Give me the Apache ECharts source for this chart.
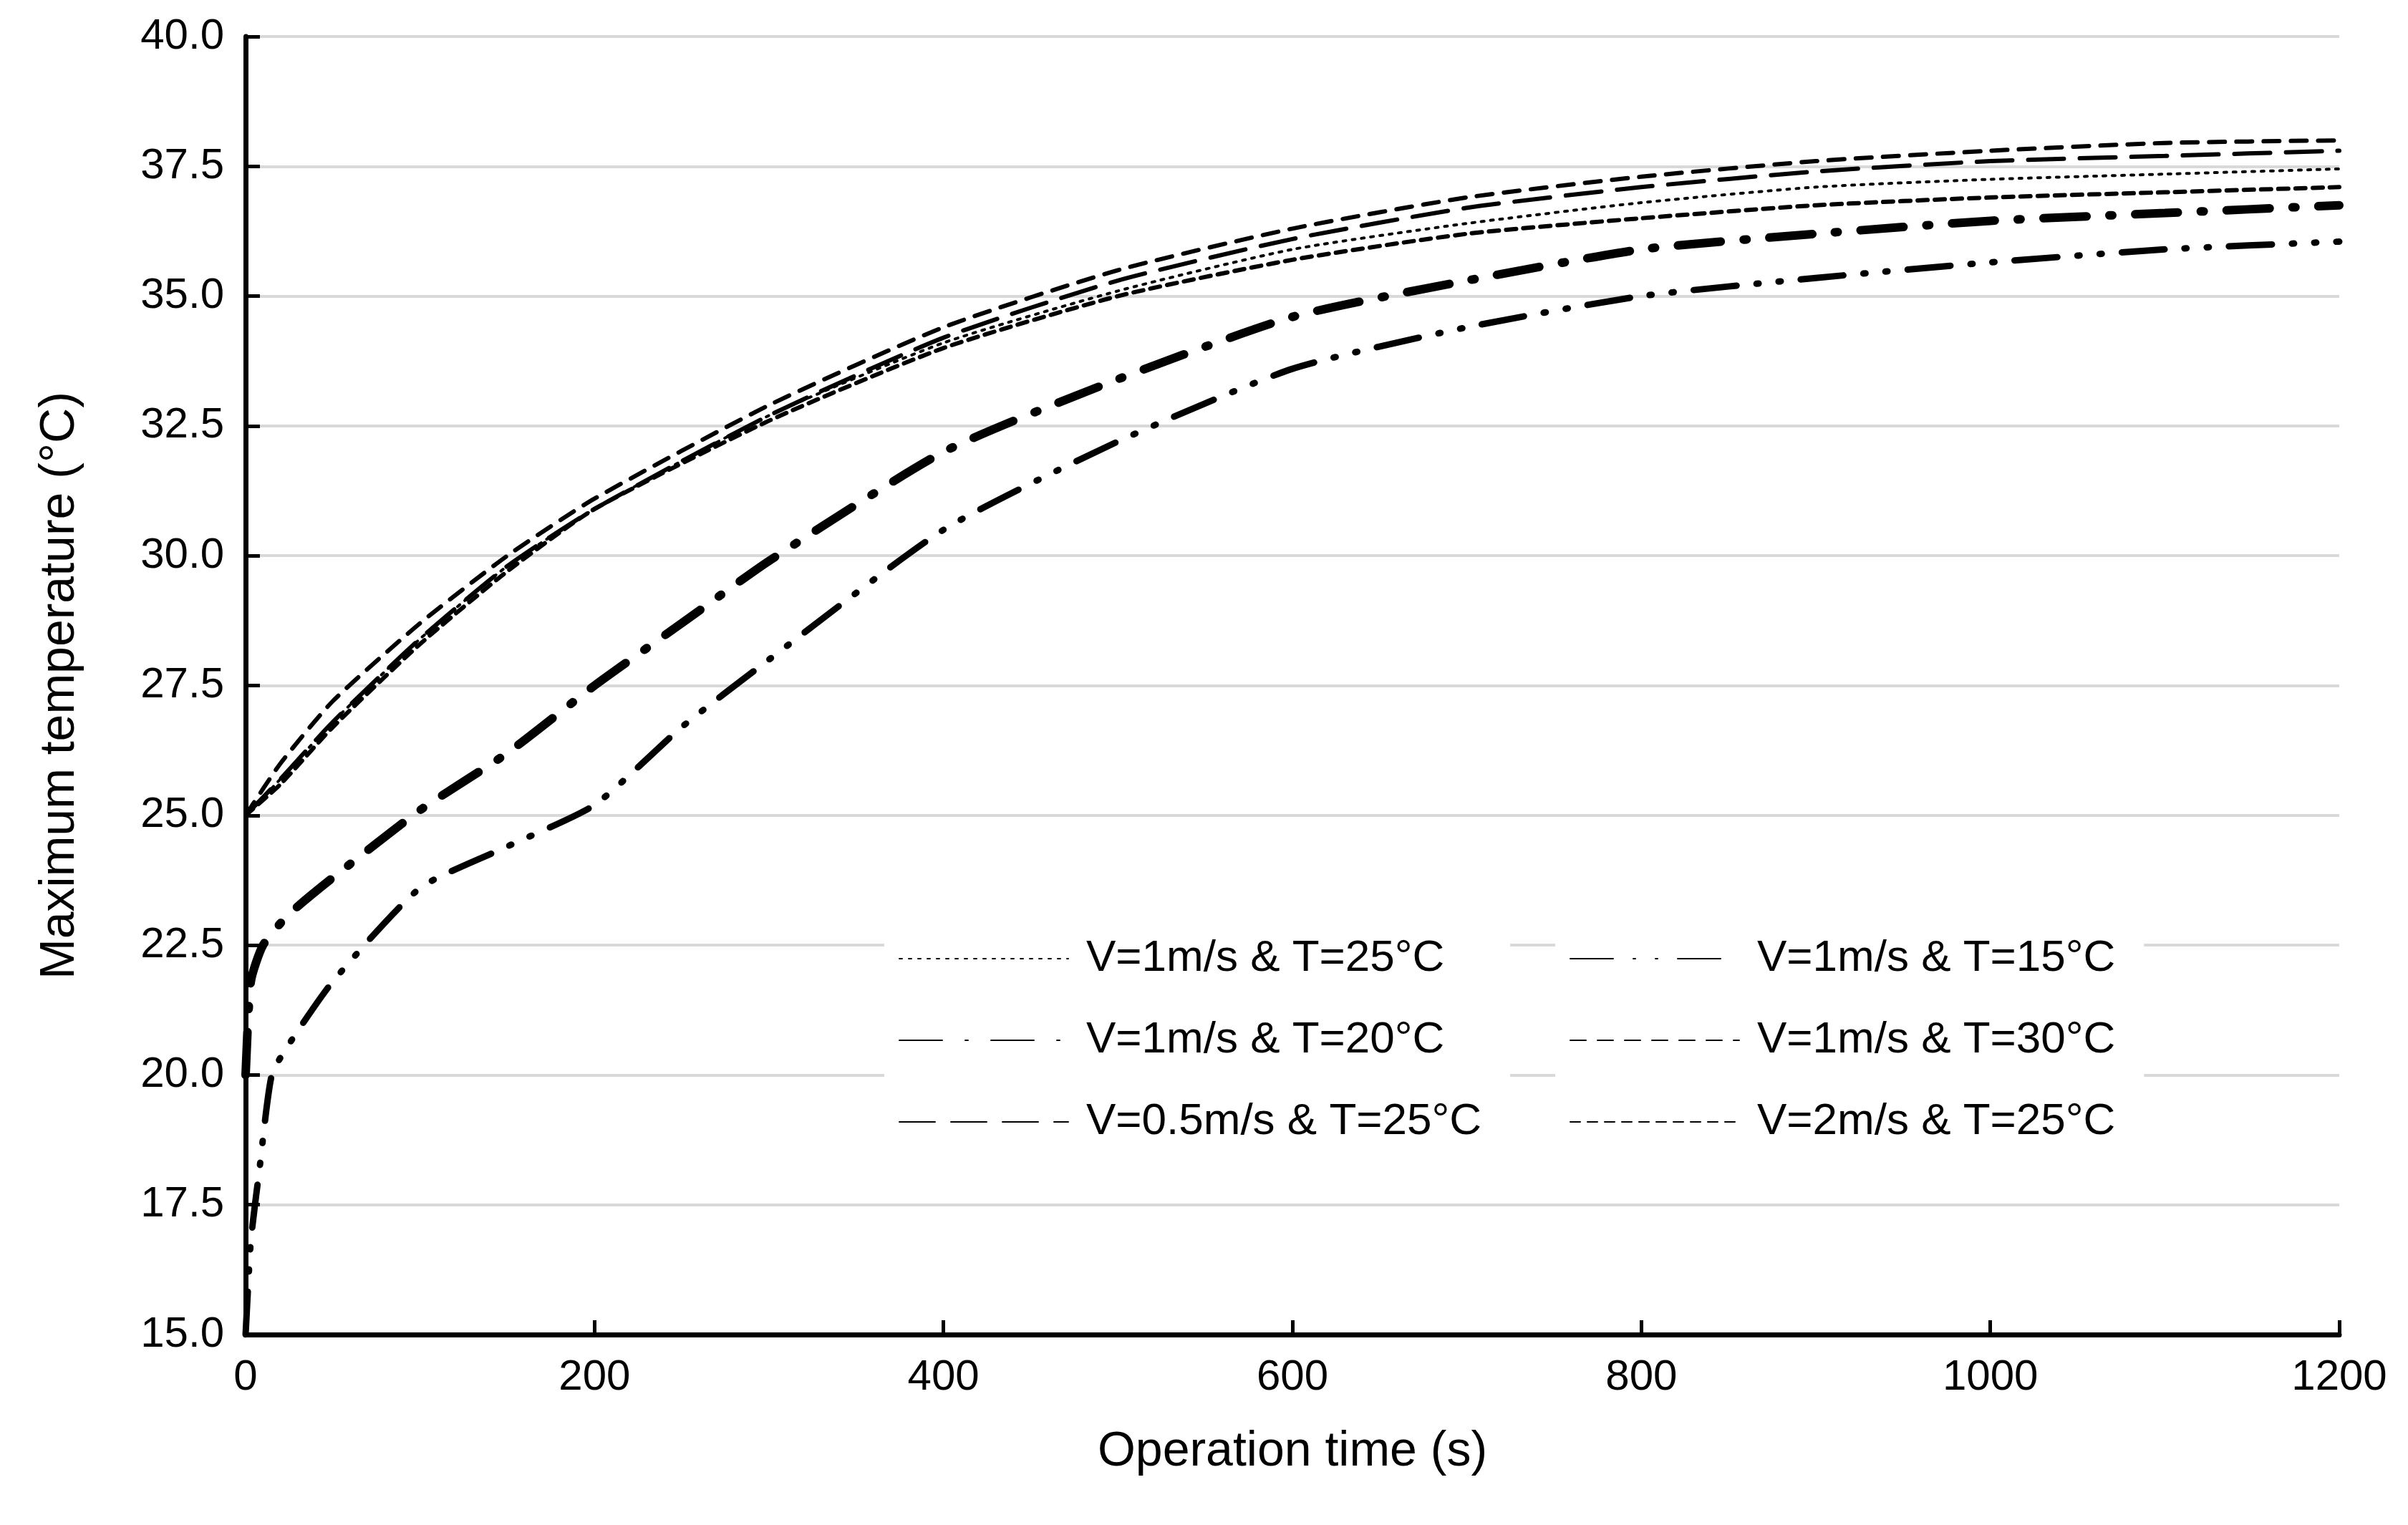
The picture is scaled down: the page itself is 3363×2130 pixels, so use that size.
<!DOCTYPE html>
<html>
<head>
<meta charset="utf-8">
<script src="https://cdn.jsdelivr.net/npm/echarts@6/dist/echarts.min.js"></script>
<style>html,body{margin:0;padding:0;background:#fff}#chart{width:3363px;height:2130px}</style>
</head>
<body>
<div id="chart"></div>
<script>
const tMain = [0, 20, 50, 100, 150, 200, 300, 400, 500, 600, 700, 800, 900, 1000, 1100, 1200]
const t25 = [25, 25.7, 26.8, 28.4, 29.8, 30.9, 32.7, 34.1, 35.1, 35.9, 36.4, 36.8, 37.1, 37.25, 37.35, 37.45]
const t30 = [25, 26.0, 27.2, 28.7, 30.0, 31.1, 32.9, 34.4, 35.5, 36.3, 36.9, 37.3, 37.6, 37.8, 37.95, 38.0]
const v05 = [25, 25.7, 26.8, 28.4, 29.8, 30.9, 32.7, 34.2, 35.3, 36.1, 36.7, 37.1, 37.4, 37.6, 37.7, 37.8]
const v2 = [25, 25.6, 26.7, 28.3, 29.7, 30.9, 32.6, 34.0, 35.0, 35.7, 36.2, 36.5, 36.75, 36.9, 37.0, 37.1]
const t20Time = [0, 3, 10, 25, 50, 100, 150, 200, 250, 300, 400, 500, 600, 700, 800, 900, 1000, 1100, 1200]
const t20 = [20, 21.8, 22.5, 23.1, 23.8, 25.1, 26.2, 27.5, 28.7, 29.9, 32.0, 33.4, 34.6, 35.3, 35.9, 36.2, 36.45, 36.6, 36.75]
const t15Time = [0, 3, 8, 15, 25, 50, 100, 150, 200, 250, 300, 400, 500, 600, 700, 800, 900, 1000, 1100, 1200]
const t15 = [15, 16.8, 18.2, 20.0, 20.6, 21.8, 23.6, 24.4, 25.2, 26.7, 28.0, 30.5, 32.2, 33.6, 34.4, 35.0, 35.35, 35.65, 35.9, 36.05]

const pair = (xs, ys) => xs.map((x, i) => [x, ys[i]])

const mk = (name, xs, ys, width, dash) => ({
  name: name, type: 'line', data: pair(xs, ys), showSymbol: false, symbol: 'none',
  smooth: 0.2,
  lineStyle: { color: '#000', width: width, type: dash, cap: 'round' },
  itemStyle: { color: '#000' }
})

const font = 'Liberation Sans, Arial, sans-serif'
const chart = echarts.init(document.getElementById('chart'))
const legendBase = {
  orient: 'vertical', itemWidth: 236, itemHeight: 24, itemGap: 52,
  itemStyle: { opacity: 0 },
  textStyle: { fontSize: 62, fontFamily: font, color: '#000', padding: [0, 0, 0, 20] },
  backgroundColor: '#fff', padding: [20, 40, 20, 20]
}
chart.setOption({
  animation: false,
  backgroundColor: '#fff',
  grid: { left: 343, right: 96, top: 51, bottom: 266 },
  legend: [
    Object.assign({}, legendBase, { left: 1235, top: 1288, data: ['V=1m/s & T=25°C', 'V=1m/s & T=20°C', 'V=0.5m/s & T=25°C'] }),
    Object.assign({}, legendBase, { left: 2172, top: 1288, data: ['V=1m/s & T=15°C', 'V=1m/s & T=30°C', 'V=2m/s & T=25°C'] })
  ],
  xAxis: {
    type: 'value', min: 0, max: 1200, interval: 200,
    name: 'Operation time (s)', nameLocation: 'middle', nameGap: 130,
    nameTextStyle: { fontSize: 68, fontFamily: font, color: '#000' },
    axisLine: { lineStyle: { color: '#000', width: 7 } },
    axisTick: { inside: true, length: 20, lineStyle: { color: '#000', width: 5 } },
    axisLabel: { fontSize: 60, fontFamily: font, color: '#000', margin: 30, formatter: v => String(v) },
    splitLine: { show: false }
  },
  yAxis: {
    type: 'value', min: 15, max: 40, interval: 2.5,
    name: 'Maximum temperature (°C)', nameLocation: 'middle', nameGap: 225,
    nameTextStyle: { fontSize: 68, fontFamily: font, color: '#000' },
    axisLine: { show: true, lineStyle: { color: '#000', width: 7 } },
    axisTick: { show: true, inside: true, length: 20, lineStyle: { color: '#000', width: 5 } },
    axisLabel: { fontSize: 60, fontFamily: font, color: '#000', margin: 30, formatter: v => v.toFixed(1) },
    splitLine: { lineStyle: { color: '#d9d9d9', width: 4 } }
  },
  series: [
    mk('V=1m/s & T=25°C', tMain, t25, 4, [4, 9]),
    mk('V=1m/s & T=20°C', t20Time, t20, 12, [60, 32, 4, 32]),
    mk('V=0.5m/s & T=25°C', tMain, v05, 6, [50, 22]),
    mk('V=1m/s & T=15°C', t15Time, t15, 9, [60, 28, 3, 28, 3, 28]),
    mk('V=1m/s & T=30°C', tMain, t30, 6, [22, 16]),
    mk('V=2m/s & T=25°C', tMain, v2, 6, [14, 10])
  ]
})
</script>
</body>
</html>
